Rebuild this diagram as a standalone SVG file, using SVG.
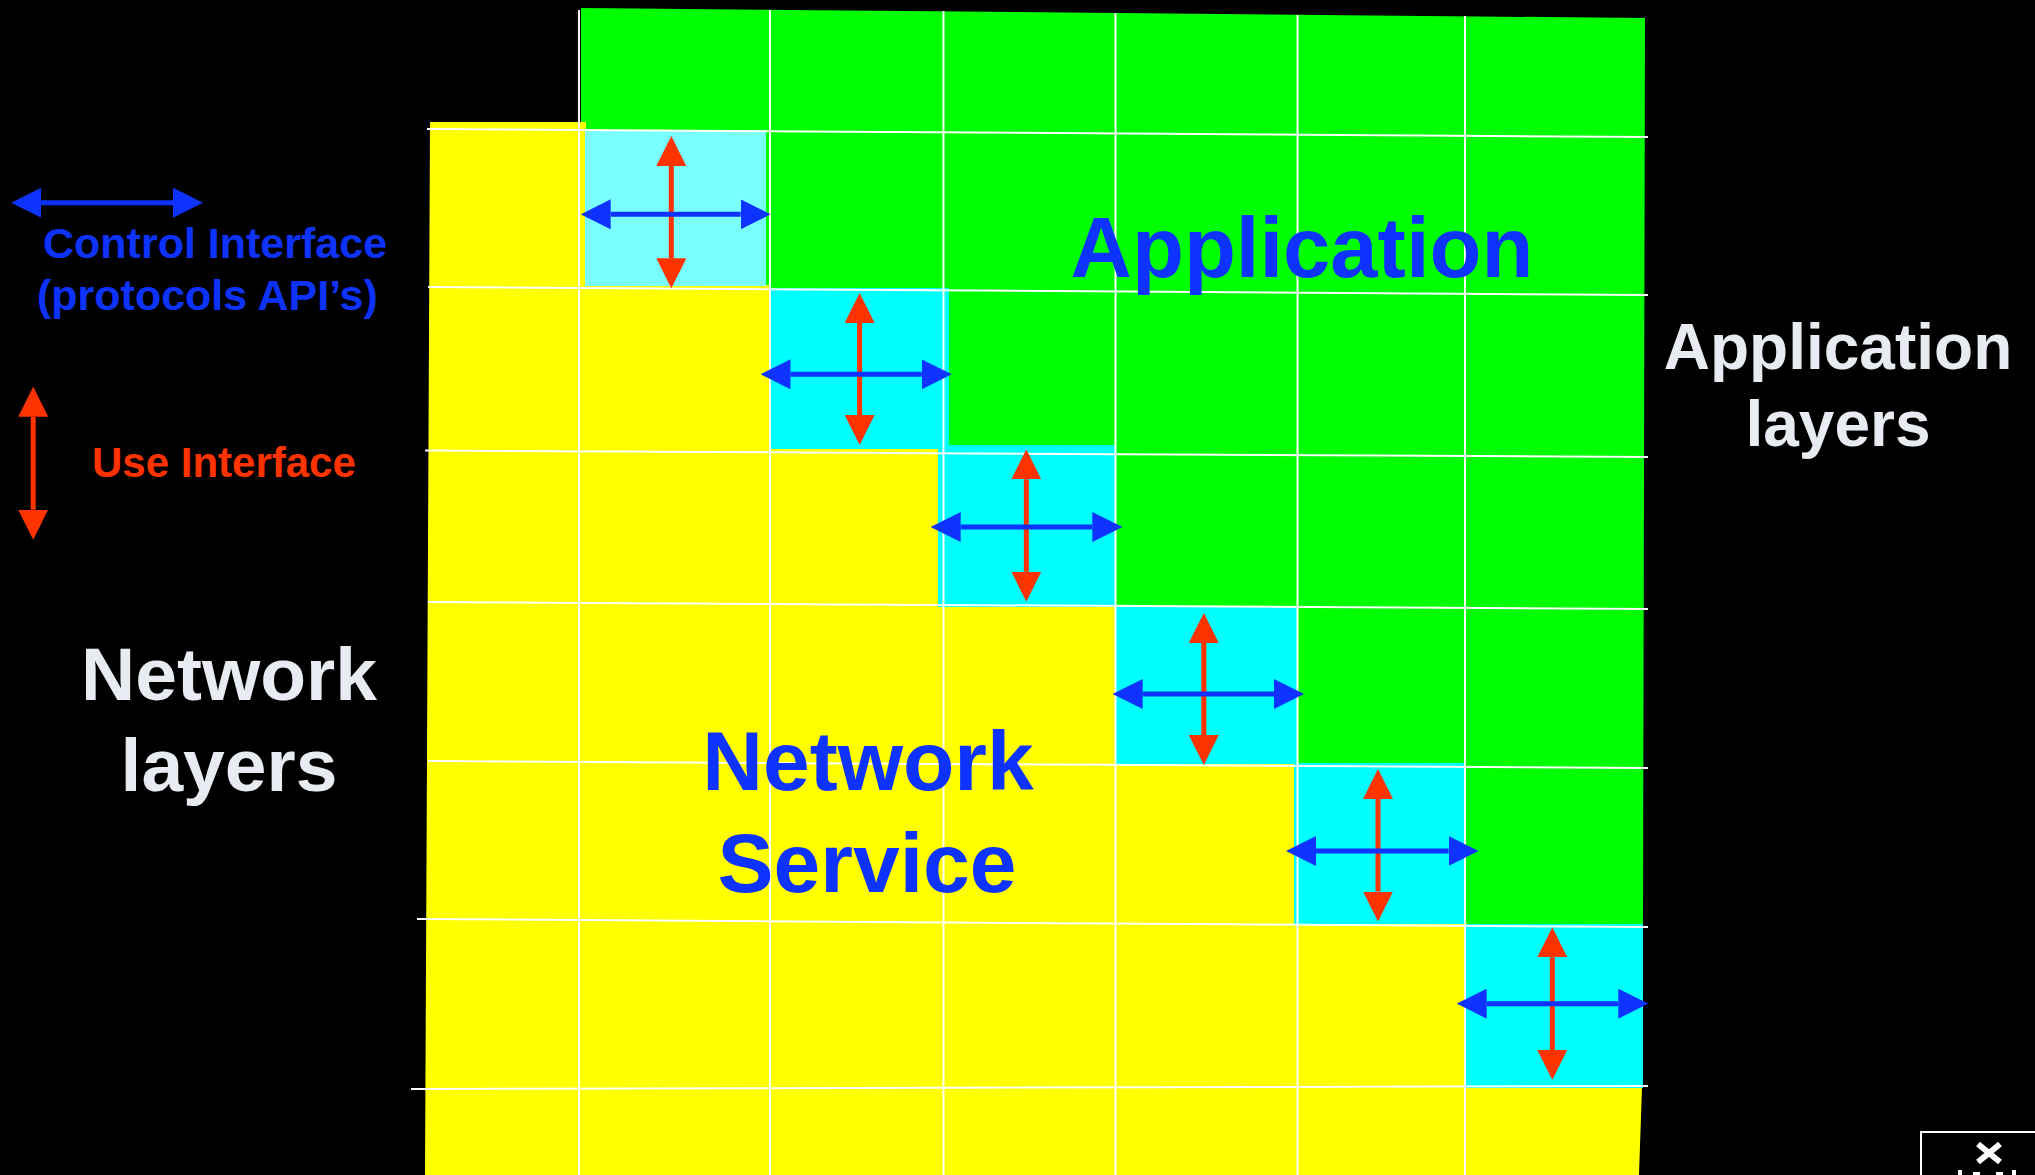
<svg xmlns="http://www.w3.org/2000/svg" width="2035" height="1175" viewBox="0 0 2035 1175">
  <style>
    .grid line { stroke: #FFFFFF; stroke-width: 2; }
    .blue { stroke: #0F33FF; stroke-width: 5; marker-start: url(#hb); marker-end: url(#hb); }
    .red { stroke: #FF3300; stroke-width: 5; marker-start: url(#hr); marker-end: url(#hr); }
    .cy { fill: #00FFFF; }
    text { font-family: "Liberation Sans", Arial, sans-serif; font-weight: bold; }
    .lblue { fill: #0F33FF; }
    .lwhite { fill: #E8ECF2; }
  </style>
  <defs>
    <marker id="hb" viewBox="0 0 30 30" markerWidth="30" markerHeight="30" refX="0" refY="15" orient="auto-start-reverse" markerUnits="userSpaceOnUse">
      <path d="M0,0 L30,15 L0,30 z" fill="#0F33FF"/>
    </marker>
    <marker id="hr" viewBox="0 0 30 30" markerWidth="30" markerHeight="30" refX="0" refY="15" orient="auto-start-reverse" markerUnits="userSpaceOnUse">
      <path d="M0,0 L30,15 L0,30 z" fill="#FF3300"/>
    </marker>
  </defs>

  <rect id="background" x="0" y="0" width="2035" height="1175" fill="#000000"/>

  <g id="application-region">
    <polygon fill="#00FF00" points="581,8 1645,18 1643,926 1464,926 1464,765 1295,765 1295,608 1114,608 1114,447 947,447 947,290 764,290 764,132 581,132"/>
  </g>
  <g id="network-region">
    <polygon fill="#FFFF00" points="430,122 586,122 586,285 771,285 771,448 939,448 939,606 1116,606 1116,763 1295,763 1295,923 1467,923 1467,1087 1642,1087 1639,1175 425,1175"/>
  </g>

  <g id="interface-cells">
    <rect id="cell-1" x="585" y="130" width="181" height="156" fill="#7AFFFF"/>
    <rect id="cell-2" class="cy" x="770" y="288" width="179" height="161"/>
    <rect id="cell-3" class="cy" x="938" y="445" width="178" height="162"/>
    <rect id="cell-4" class="cy" x="1115" y="606" width="182" height="158"/>
    <rect id="cell-5" class="cy" x="1294" y="763" width="172" height="161"/>
    <rect id="cell-6" class="cy" x="1466" y="924" width="177" height="164"/>
  </g>

  <g id="grid" class="grid">
    <line x1="579" y1="10" x2="579" y2="1175"/>
    <line x1="770" y1="10" x2="770" y2="1175"/>
    <line x1="943.5" y1="11" x2="943.5" y2="1175"/>
    <line x1="1115.5" y1="13" x2="1115.5" y2="1175"/>
    <line x1="1297.5" y1="15" x2="1297.5" y2="1175"/>
    <line x1="1465" y1="16" x2="1465" y2="1175"/>
    <line x1="427" y1="129" x2="1648" y2="137"/>
    <line x1="428" y1="287" x2="1648" y2="295"/>
    <line x1="425" y1="450.5" x2="1648" y2="457"/>
    <line x1="428" y1="602" x2="1648" y2="609"/>
    <line x1="428" y1="761" x2="1648" y2="768"/>
    <line x1="417" y1="919" x2="1648" y2="927"/>
    <line x1="411" y1="1089" x2="1648" y2="1086"/>
  </g>

  <g id="connectors">
    <line class="red" x1="671.3" y1="166" x2="671.3" y2="258.3"/>
    <line class="blue" x1="610.7" y1="214.3" x2="740.7" y2="214.3"/>
    <line class="red" x1="859.6" y1="323" x2="859.6" y2="415"/>
    <line class="blue" x1="790.5" y1="374.3" x2="921.8" y2="374.3"/>
    <line class="red" x1="1026.3" y1="479.3" x2="1026.3" y2="571.7"/>
    <line class="blue" x1="960.7" y1="527" x2="1092.3" y2="527"/>
    <line class="red" x1="1203.8" y1="643" x2="1203.8" y2="735"/>
    <line class="blue" x1="1142.7" y1="694" x2="1274" y2="694"/>
    <line class="red" x1="1378" y1="799" x2="1378" y2="891.5"/>
    <line class="blue" x1="1316" y1="851" x2="1448.6" y2="851"/>
    <line class="red" x1="1552.3" y1="957.3" x2="1552.3" y2="1050"/>
    <line class="blue" x1="1486.7" y1="1003.7" x2="1618.3" y2="1003.7"/>
    <line id="legend-control-arrow" class="blue" x1="41.2" y1="202.7" x2="173" y2="202.7"/>
    <line id="legend-use-arrow" class="red" x1="33.2" y1="416.7" x2="33.2" y2="509.7"/>
  </g>

  <g id="legend-control">
    <text class="lblue" x="43" y="258" font-size="43">Control Interface</text>
    <text class="lblue" x="37" y="310" font-size="43">(protocols API’s)</text>
  </g>
  <g id="legend-use">
    <text x="92" y="477" font-size="42" fill="#FF3300">Use Interface</text>
  </g>
  <g id="network-layers-label">
    <text class="lwhite" x="229" y="700" font-size="75" text-anchor="middle">Network</text>
    <text class="lwhite" x="229" y="791" font-size="75" text-anchor="middle">layers</text>
  </g>
  <g id="application-layers-label">
    <text class="lwhite" x="1838" y="369" font-size="64" text-anchor="middle">Application</text>
    <text class="lwhite" x="1838" y="446" font-size="64" text-anchor="middle">layers</text>
  </g>
  <g id="application-label">
    <text class="lblue" x="1302" y="277" font-size="85" text-anchor="middle">Application</text>
  </g>
  <g id="network-service-label">
    <text class="lblue" x="868" y="790" font-size="84" text-anchor="middle">Network</text>
    <text class="lblue" x="867" y="892" font-size="84" text-anchor="middle">Service</text>
  </g>

  <g id="corner-icon">
    <rect x="1921" y="1132" width="130" height="60" fill="#000000" stroke="#FFFFFF" stroke-width="2"/>
    <path d="M1978,1144 L2000,1162 M2000,1144 L1978,1162" stroke="#FFFFFF" stroke-width="6"/>
    <rect x="1958" y="1170" width="4" height="5" fill="#FFFFFF"/>
    <rect x="1973" y="1172" width="7" height="3" fill="#FFFFFF"/>
    <rect x="1996" y="1172" width="7" height="3" fill="#FFFFFF"/>
    <rect x="2012" y="1170" width="4" height="5" fill="#FFFFFF"/>
  </g>
</svg>
